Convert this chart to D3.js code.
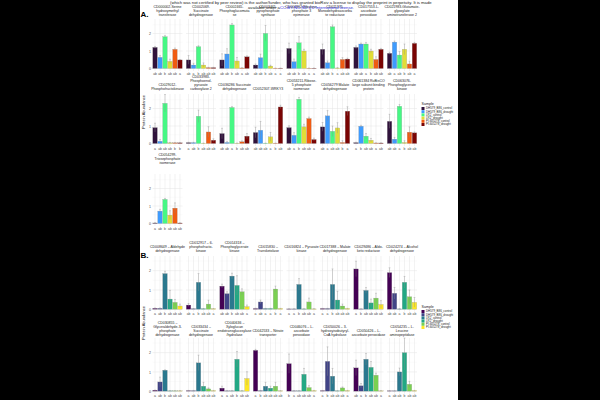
<!DOCTYPE html>
<html><head><meta charset="utf-8">
<script src="https://cdn.jsdelivr.net/npm/d3@7"></script>
<style>
html,body{margin:0;padding:0;background:#000;}
svg{display:block;font-family:"Liberation Sans",Arial,sans-serif;}
</style></head>
<body>
<svg id="c" width="600" height="400"></svg>
<script>
// ---------------- DATA ----------------
const samplesA = ["DH579_B86_control","DH579_B86_drought","LR2_control","LR2_drought","PI-605278_control","PI-605278_drought"];
const samplesB = ["DH579_B86_control","DH579_B86_drought","LR2_control","LR2_drought","PI-605278_control","PI-605278_drought"];
const colorsA = ["#30123B","#3E9BFE","#46F884","#E1DD37","#F05B12","#7A0403"];
const colorsB = ["#440154","#414487","#2A788E","#22A884","#7AD151","#FDE725"];

const titlesA = [
  "CD000002-Serine\nhydroxymethyl\ntransferase",
  "CD002069-\nSuccinate\ndehydrogenase",
  "CD002465-\nPhosphoglucomuta\nse",
  "CD003415-\npyrophosphate\nsynthase",
  "CD004962-Ribulose-\nphosphate 3\nepimerase",
  "CD011375-\nMonodehydroascorba\nte reductase",
  "CD017553-L-\nascorbate\nperoxidase",
  "CD021983-Glutamate-\nglyoxylate\naminotransferase 2",
  "CD029012-\nPhosphofructokinase",
  "CD033983-\nPhosphoenol-\npyruvate\ncarboxylase 2",
  "CD036286 Succinate\ndehydrogenase",
  "CD052307-WRKY3",
  "CD053211-Ribose-\n5 phosphate\nisomerase",
  "CD056279 Malate\ndehydrogenase",
  "CD061384 RuBisCO\nlarge subunit binding\nprotein",
  "CD063076-\nPhosphoglycerate\nkinase",
  "CD054299-\nTriosephosphate\nisomerase"
];
const valuesA = [
  [1.21,0.64,1.82,0.41,1.10,0.49],
  [0.49,0.20,1.25,0.20,0.05,0.05],
  [0.49,0.83,2.49,0.43,0.03,0.67],
  [0.20,0.62,2.01,0.14,0.02,0.02],
  [1.15,0.39,1.47,1.00,0.02,0.02],
  [1.10,0.33,2.39,0.03,0.52,0.54],
  [1.21,1.40,1.40,1.00,0.52,1.10],
  [0.87,1.51,0.77,1.10,0.26,1.44],
  [0.91,0.13,2.30,0.04,0.04,0.04],
  [0.05,0.05,1.56,0.02,0.66,0.19],
  [0.57,0.06,2.06,0.02,0.10,0.42],
  [0.63,0.76,0.02,0.38,0.02,2.09],
  [0.91,0.47,2.53,0.95,1.43,0.23],
  [0.95,1.58,0.70,0.89,0.06,1.85],
  [0.05,0.99,0.42,0.19,0.03,0.03],
  [1.27,0.25,2.13,0.06,0.65,0.61],
  [0.03,0.71,1.38,0.48,0.88,0.03]
];
const errorsA = [
  [0.05,0.10,0.06,0.12,0.07,0.02],
  [0.25,0.10,0.05,0.12,0.02,0.02],
  [0.35,0.30,0.08,0.20,0.02,0.05],
  [0.06,0.20,0.45,0.05,0.01,0.01],
  [0.30,0.15,0.35,0.10,0.01,0.01],
  [0.30,0.10,0.10,0.02,0.10,0.05],
  [0.08,0.05,0.08,0.10,0.15,0.05],
  [0.06,0.06,0.20,0.30,0.15,0.05],
  [0.25,0.10,0.50,0.02,0.02,0.02],
  [0.02,0.02,0.35,0.01,0.30,0.08],
  [0.30,0.05,0.05,0.01,0.05,0.15],
  [0.30,0.50,0.01,0.25,0.01,0.10],
  [0.10,0.15,0.10,0.15,0.08,0.08],
  [0.25,0.30,0.30,0.30,0.10,0.25],
  [0.02,0.05,0.15,0.10,0.01,0.01],
  [0.40,0.10,0.10,0.10,0.30,0.05],
  [0.02,0.10,0.05,0.25,0.30,0.01]
];
const lettersA = [
  ["ab","ab","b","ab","ab","a"],
  ["ab","a","b","ab","ab","ab"],
  ["ab","ab","b","ab","a","ab"],
  ["ab","ab","b","ab","a","a"],
  ["ab","ab","b","ab","a","a"],
  ["ab","ab","b","a","ab","ab"],
  ["ab","ab","a","b","ab","ab"],
  ["ab","a","ab","b","ab","a"],
  ["a","ab","ab","ab","b","b"],
  ["a","ab","b","ab","ab","ab"],
  ["ab","ab","a","b","ab","ab"],
  ["ab","ab","ab","a","b","ab"],
  ["ab","a","b","ab","ab","a"],
  ["ab","a","ab","ab","b","a"],
  ["a","b","ab","ab","a","ab"],
  ["ab","ab","a","b","ab","ab"],
  ["a","ab","b","ab","ab","ab"]
];

const titlesB = [
  "CD008649 – Aldehyde\ndehydrogenase",
  "CD012917 – 6-\nphosphofructo-\nkinase",
  "CD014318 –\nPhosphoglycerate\nkinase",
  "CD015830 –\nTransketolase",
  "CD016824 – Pyruvate\nkinase",
  "CD017388 – Malate\ndehydrogenase",
  "CD029486 – Aldo-\nketo reductase",
  "CD024274 – Alcohol\ndehydrogenase",
  "CD030855 –\nGlyceraldehyde-3-\nphosphate\ndehydrogenase",
  "CD033434 –\nSuccinate\ndehydrogenase",
  "CD040636 –\nXyloglucan\nendotransglucosylase\n/hydrolase",
  "CD042533 – Nitrate\ntransporter",
  "CD046076 – L-\nascorbate\nperoxidase",
  "CD050026 – 3-\nhydroxyisobutyryl-\nCoA hydrolase",
  "CD050426 – L-\nascorbate peroxidase",
  "CD054235 – L-\nLeucine\naminopeptidase"
];
const valuesB = [
  [0.05,0.05,1.85,0.53,0.36,0.17],
  [0.22,0.03,1.40,0.03,0.27,0.03],
  [1.20,0.81,1.72,1.24,0.91,0.14],
  [0.04,0.38,0.04,0.04,1.05,0.04],
  [0.02,0.02,1.29,0.02,0.38,0.02],
  [0.04,0.04,1.29,0.48,0.17,0.04],
  [2.09,0.02,0.98,0.33,0.58,0.25],
  [1.90,0.83,0.02,1.40,0.65,0.36],
  [0.05,0.48,1.09,0.02,0.02,0.02],
  [0.03,0.03,1.47,0.26,0.12,0.03],
  [0.16,0.02,0.02,1.66,0.02,0.66],
  [2.12,0.03,0.26,0.16,0.26,0.02],
  [1.43,0.02,0.02,0.88,0.19,0.03],
  [0.03,1.55,0.78,0.02,0.17,0.03],
  [1.21,0.28,1.66,1.24,0.83,0.02],
  [0.02,0.02,1.00,2.00,0.36,0.03]
];
const errorsB = [
  [0.02,0.02,0.12,0.45,0.15,0.10],
  [0.08,0.01,0.45,0.01,0.20,0.01],
  [0.10,0.10,0.15,0.50,0.15,0.08],
  [0.02,0.10,0.01,0.01,0.15,0.01],
  [0.01,0.01,0.30,0.01,0.20,0.01],
  [0.01,0.01,0.80,0.45,0.10,0.01],
  [0.40,0.01,0.15,0.20,0.25,0.20],
  [0.25,0.30,0.01,0.30,0.35,0.25],
  [0.01,0.25,0.02,0.01,0.01,0.01],
  [0.01,0.01,0.40,0.20,0.05,0.01],
  [0.10,0.01,0.01,0.40,0.01,0.35],
  [0.05,0.01,0.20,0.10,0.20,0.01],
  [0.50,0.01,0.01,0.30,0.10,0.01],
  [0.01,0.75,0.40,0.01,0.05,0.01],
  [0.40,0.12,0.30,0.30,0.10,0.01],
  [0.01,0.01,0.20,0.90,0.15,0.01]
];
const lettersB = [
  ["a","ab","b","ab","ab","ab"],
  ["ab","a","b","ab","ab","a"],
  ["ab","ab","b","ab","ab","a"],
  ["a","ab","a","a","b","a"],
  ["a","a","b","ab","ab","a"],
  ["a","a","b","ab","ab","ab"],
  ["a","b","ab","ab","ab","ab"],
  ["ab","ab","a","b","ab","ab"],
  ["a","ab","b","ab","ab","ab"],
  ["a","ab","b","ab","ab","ab"],
  ["a","a","ab","b","ab","ab"],
  ["a","b","ab","ab","ab","ab"],
  ["b","a","ab","ab","ab","a"],
  ["a","b","ab","ab","ab","a"],
  ["ab","a","b","ab","ab","a"],
  ["a","ab","ab","b","ab","ab"]
];
const yTicks = [0,1,2];
const headerLine1 = "(which was not certified by peer review) is the author/funder, who has granted bioRxiv a license to display the preprint in perpetuity. It is made";
const headerLine2a = "available under a";
const headerLine2b = "CC-BY-NC-ND 4.0 International license.";

// ---------------- DRAW ----------------
const svg = d3.select("#c");
svg.append("rect").attr("x",0).attr("y",0).attr("width",600).attr("height",400).attr("fill","#000");
svg.append("rect").attr("x",140).attr("y",0).attr("width",318).attr("height",400).attr("fill","#fff");
svg.append("defs").append("clipPath").attr("id","pg")
  .append("rect").attr("x",140).attr("y",0).attr("width",318).attr("height",400);
const root = svg.append("g").attr("clip-path","url(#pg)");

const colX0 = 152.5, colPitch = 33.5, panelW = 30;

function drawPanel(col, rowCfg, vals, errs, letters, title, colors, showY, samples) {
  const x0 = colX0 + col*colPitch;
  const y = d3.scaleLinear().domain(rowCfg.domain).range([rowCfg.bottom, rowCfg.top]);
  const x = d3.scaleBand().domain(samples).range([x0, x0+panelW]).paddingInner(0.08).paddingOuter(0.05);
  const g = root.append("g");
  const minor = d3.range(0.5, rowCfg.domain[1], 1);
  g.selectAll(".mn").data(minor).join("line")
    .attr("x1",x0).attr("x2",x0+panelW).attr("y1",d=>y(d)).attr("y2",d=>y(d))
    .attr("stroke","#f2f2f2").attr("stroke-width",0.3);
  g.selectAll(".mj").data(yTicks).join("line")
    .attr("x1",x0).attr("x2",x0+panelW).attr("y1",d=>y(d)).attr("y2",d=>y(d))
    .attr("stroke","#e4e4e4").attr("stroke-width",0.5);
  g.selectAll(".vx").data(samples).join("line")
    .attr("x1",d=>x(d)+x.bandwidth()/2).attr("x2",d=>x(d)+x.bandwidth()/2)
    .attr("y1",rowCfg.top).attr("y2",rowCfg.bottom)
    .attr("stroke","#e4e4e4").attr("stroke-width",0.5);
  g.selectAll(".bar").data(vals).join("rect")
    .attr("x",(d,i)=>x(samples[i])).attr("width",x.bandwidth())
    .attr("y",d=>y(d)).attr("height",d=>y(0)-y(d))
    .attr("fill",(d,i)=>colors[i]).attr("stroke","#9a9a9a").attr("stroke-width",0.25);
  const eg = g.selectAll(".eb").data(vals).join("g").attr("stroke","#8a8a8a").attr("stroke-width",0.35);
  eg.append("line")
    .attr("x1",(d,i)=>x(samples[i])+x.bandwidth()/2).attr("x2",(d,i)=>x(samples[i])+x.bandwidth()/2)
    .attr("y1",(d,i)=>y(Math.max(0,d-errs[i]))).attr("y2",(d,i)=>y(Math.min(rowCfg.domain[1],d+errs[i])));
  eg.append("line")
    .attr("x1",(d,i)=>x(samples[i])+x.bandwidth()*0.3).attr("x2",(d,i)=>x(samples[i])+x.bandwidth()*0.7)
    .attr("y1",(d,i)=>y(Math.min(rowCfg.domain[1],d+errs[i]))).attr("y2",(d,i)=>y(Math.min(rowCfg.domain[1],d+errs[i])));
  const xa = d3.axisBottom(x).tickSize(0).tickPadding(1.2).tickFormat((d,i)=>letters[i]);
  const ax = g.append("g").attr("transform",`translate(0,${rowCfg.bottom})`).call(xa);
  ax.select(".domain").remove();
  ax.selectAll("text").attr("font-size",3.4).attr("fill","#4d4d4d").attr("font-family","Liberation Sans, Arial, sans-serif");
  if (showY) {
    const ya = d3.axisLeft(y).tickValues(yTicks).tickSize(0).tickPadding(1.5).tickFormat(d3.format("d"));
    const ay = g.append("g").attr("transform",`translate(${x0},0)`).call(ya);
    ay.select(".domain").remove();
    ay.selectAll("text").attr("font-size",3.6).attr("fill","#4d4d4d").attr("font-family","Liberation Sans, Arial, sans-serif");
  }
  const lines = title.split("\n");
  const tg = g.append("text").attr("text-anchor","middle").attr("font-size",3.5).attr("fill","#1a1a1a");
  lines.forEach((ln,k)=>{
    tg.append("tspan").attr("x",x0+panelW/2).attr("y",rowCfg.titleBottom-(lines.length-1-k)*4).text(ln);
  });
}

const rowsA = [
  {top:19, bottom:71, domain:[-0.143,2.83], titleBottom:15.5},
  {top:94, bottom:146, domain:[-0.143,2.83], titleBottom:89.5},
  {top:174, bottom:226, domain:[-0.143,2.83], titleBottom:164}
];
const rowsB = [
  {top:256, bottom:311.6, domain:[-0.12,2.76], titleBottom:252},
  {top:338, bottom:393.5, domain:[-0.12,2.76], titleBottom:335.5}
];

titlesA.forEach((t,i)=>{
  const r = Math.floor(i/8), c = i%8;
  drawPanel(c, rowsA[r], valuesA[i], errorsA[i], lettersA[i], t, colorsA, c===0, samplesA);
});
titlesB.forEach((t,i)=>{
  const r = Math.floor(i/8), c = i%8;
  drawPanel(c, rowsB[r], valuesB[i], errorsB[i], lettersB[i], t, colorsB, c===0, samplesB);
});

root.append("text").attr("transform","translate(144.5,112) rotate(-90)").attr("text-anchor","middle")
  .attr("font-size",4).attr("fill","#1a1a1a").text("Protein Abundance");
root.append("text").attr("transform","translate(144.5,323) rotate(-90)").attr("text-anchor","middle")
  .attr("font-size",4).attr("fill","#1a1a1a").text("Protein Abundance");

root.append("text").attr("x",140.5).attr("y",17).attr("font-size",8).attr("font-weight","bold").text("A.");
root.append("text").attr("x",140.5).attr("y",258).attr("font-size",8).attr("font-weight","bold").text("B.");

function legend(x0, y0, samples, colors) {
  const g = root.append("g");
  g.append("text").attr("x",x0).attr("y",y0).attr("font-size",3.6).attr("fill","#1a1a1a").text("Sample");
  samples.forEach((s,i)=>{
    g.append("rect").attr("x",x0).attr("y",y0+2+i*3.2).attr("width",3).attr("height",3).attr("fill",colors[i]);
    g.append("text").attr("x",x0+4.5).attr("y",y0+4.4+i*3.2).attr("font-size",2.9).attr("fill","#1a1a1a").text(s);
  });
}
legend(421.5, 105, samplesA, colorsA);
legend(421.5, 308, samplesB, colorsB);

root.append("text").attr("x",170).attr("y",4).attr("font-size",4.2).attr("fill","#222").text(headerLine1);
const h2 = root.append("text").attr("x",248).attr("y",8.5).attr("font-size",4.2);
h2.append("tspan").attr("fill","#222").text(headerLine2a);
h2.append("tspan").attr("fill","#2b2bd8").text(headerLine2b);
</script>
</body></html>
